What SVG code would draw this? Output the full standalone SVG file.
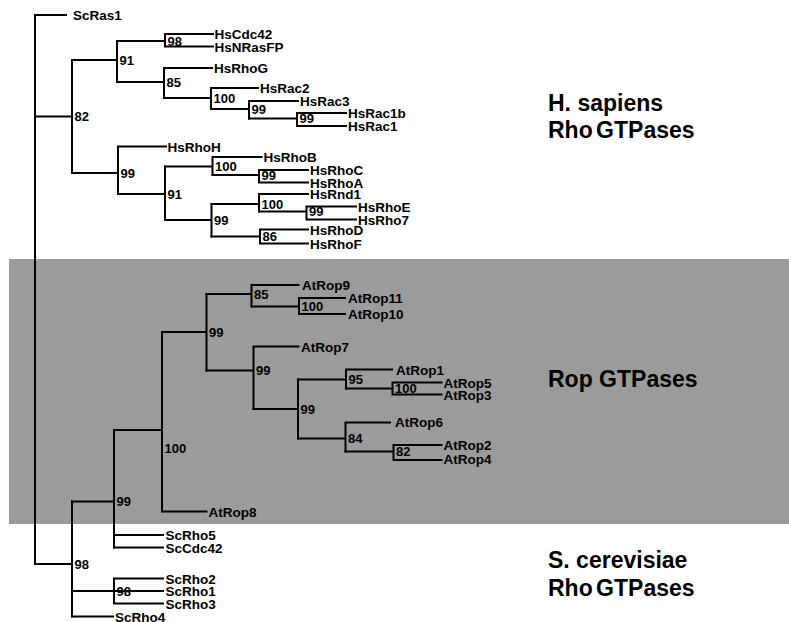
<svg xmlns="http://www.w3.org/2000/svg" width="789" height="622" viewBox="0 0 789 622">
  <style>
    .bg { fill: #ffffff; }
    .band { fill: #9b9b9b; }
    .edge { fill: none; stroke: #000000; stroke-width: 2; stroke-linecap: square; }
    .leaf { font-family: "Liberation Sans", Arial, sans-serif; font-weight: bold; font-size: 13.5px; fill: #000000; }
    .boot { font-family: "Liberation Sans", Arial, sans-serif; font-weight: bold; font-size: 13px; fill: #000000; }
    .group { font-family: "Liberation Sans", Arial, sans-serif; font-weight: bold; font-size: 23px; fill: #000000; }
  </style>

  <rect class="bg" x="0" y="0" width="789" height="622"/>
  <!-- shaded clade: plant Rop GTPases -->
  <rect id="rop-band" class="band" x="9" y="259" width="780" height="265"/>

  <!-- branches of the tree -->
  <g id="connectors">
    <path class="edge" d="M35 15 V564 M35 15 H66"/>
    <!-- H. sapiens clade -->
    <path class="edge" d="M35 116.5 H72 M72 60 V173"/>
    <path class="edge" d="M72 60 H117 M117 41 V82"/>
    <path class="edge" d="M117 41 H165 M165 34 V46.5 M165 34 H213 M165 46.5 H213"/>
    <path class="edge" d="M117 82 H164 M164 68 V98 M164 68 H212"/>
    <path class="edge" d="M164 98 H211 M211 88 V109 M211 88 H258"/>
    <path class="edge" d="M211 109 H249 M249 101 V118.5 M249 101 H298"/>
    <path class="edge" d="M249 118.5 H297 M297 113 V126 M297 113 H346 M297 126 H346"/>
    <path class="edge" d="M72 173 H118 M118 146.5 V194 M118 146.5 H166"/>
    <path class="edge" d="M118 194 H165 M165 166.5 V220"/>
    <path class="edge" d="M165 166.5 H212.5 M212.5 157 V175 M212.5 157 H261.5"/>
    <path class="edge" d="M212.5 175 H259 M259 170 V182.5 M259 170 H308 M259 182.5 H308"/>
    <path class="edge" d="M165 220 H211.5 M211.5 204 V236.5"/>
    <path class="edge" d="M211.5 204 H259 M259 194 V211.5 M259 194 H308"/>
    <path class="edge" d="M259 211.5 H306.5 M306.5 206.5 V219.5 M306.5 206.5 H356 M306.5 219.5 H356"/>
    <path class="edge" d="M211.5 236.5 H260 M260 229.5 V243.5 M260 229.5 H308 M260 243.5 H308"/>
    <!-- Rop + S. cerevisiae clade -->
    <path class="edge" d="M35 564 H72 M72 501.5 V616.5"/>
    <path class="edge" d="M72 501.5 H114 M114 430 V547.5"/>
    <path class="edge" d="M114 430 H162 M162 332 V511.5 M162 511.5 H206.5"/>
    <path class="edge" d="M162 332 H206.5 M206.5 294 V370.5"/>
    <path class="edge" d="M206.5 294 H251.5 M251.5 285 V306.5 M251.5 285 H298.5"/>
    <path class="edge" d="M251.5 306.5 H299 M299 298 V314 M299 298 H345 M299 314 H345"/>
    <path class="edge" d="M206.5 370.5 H253.5 M253.5 346.5 V409 M253.5 346.5 H298.5"/>
    <path class="edge" d="M253.5 409 H298 M298 379.5 V438.5"/>
    <path class="edge" d="M298 379.5 H346 M346 369.5 V388.5 M346 369.5 H392"/>
    <path class="edge" d="M346 388.5 H392.5 M392.5 382.5 V394.5 M392.5 382.5 H441.5 M392.5 394.5 H441.5"/>
    <path class="edge" d="M298 438.5 H345.5 M345.5 422.5 V451.5 M345.5 422.5 H390"/>
    <path class="edge" d="M345.5 451.5 H393.5 M393.5 445 V460 M393.5 445 H441.5 M393.5 460 H441.5"/>
    <path class="edge" d="M114 535 H163 M114 547.5 H163"/>
    <path class="edge" d="M72 591 H163 M114 578.5 V603.5 M114 578.5 H163 M114 603.5 H163"/>
    <path class="edge" d="M72 616.5 H113"/>
  </g>

  <!-- bootstrap support at internal nodes -->
  <g id="n82a"><text class="boot" x="74.5" y="121.2">82</text></g>
  <g id="n91a"><text class="boot" x="119.5" y="64.7">91</text></g>
  <g id="n98a"><text class="boot" x="167.5" y="45.5">98</text></g>
  <g id="n85a"><text class="boot" x="166.5" y="86.7">85</text></g>
  <g id="n100a"><text class="boot" x="213.5" y="102.7">100</text></g>
  <g id="n99a"><text class="boot" x="251.5" y="113.7">99</text></g>
  <g id="n99b"><text class="boot" x="299.5" y="123">99</text></g>
  <g id="n99c"><text class="boot" x="120.5" y="177.7">99</text></g>
  <g id="n91b"><text class="boot" x="167.5" y="198.7">91</text></g>
  <g id="n100b"><text class="boot" x="215" y="171.2">100</text></g>
  <g id="n99d"><text class="boot" x="261.5" y="179.7">99</text></g>
  <g id="n99e"><text class="boot" x="214" y="224.7">99</text></g>
  <g id="n100c"><text class="boot" x="261.5" y="208.7">100</text></g>
  <g id="n99f"><text class="boot" x="309" y="216.2">99</text></g>
  <g id="n86"><text class="boot" x="262.5" y="241.2">86</text></g>
  <g id="n98b"><text class="boot" x="74.5" y="568.7">98</text></g>
  <g id="n99g"><text class="boot" x="116.5" y="506.2">99</text></g>
  <g id="n100d"><text class="boot" x="164.5" y="452.7">100</text></g>
  <g id="n99h"><text class="boot" x="209" y="336.7">99</text></g>
  <g id="n85b"><text class="boot" x="254" y="298.7">85</text></g>
  <g id="n100e"><text class="boot" x="301.5" y="311.2">100</text></g>
  <g id="n99i"><text class="boot" x="256" y="375.2">99</text></g>
  <g id="n99j"><text class="boot" x="300.5" y="413.7">99</text></g>
  <g id="n95"><text class="boot" x="348.5" y="384.2">95</text></g>
  <g id="n100f"><text class="boot" x="395" y="393.2">100</text></g>
  <g id="n84"><text class="boot" x="348" y="443.2">84</text></g>
  <g id="n82b"><text class="boot" x="396" y="456.2">82</text></g>
  <g id="n98c"><text class="boot" x="116.5" y="595.7">98</text></g>

  <!-- leaves -->
  <g id="ScRas1"><text class="leaf" x="73" y="20">ScRas1</text></g>
  <g id="HsCdc42"><text class="leaf" x="214.5" y="39">HsCdc42</text></g>
  <g id="HsNRasFP"><text class="leaf" x="214.5" y="51.5">HsNRasFP</text></g>
  <g id="HsRhoG"><text class="leaf" x="214" y="73">HsRhoG</text></g>
  <g id="HsRac2"><text class="leaf" x="260" y="93">HsRac2</text></g>
  <g id="HsRac3"><text class="leaf" x="300" y="106">HsRac3</text></g>
  <g id="HsRac1b"><text class="leaf" x="348" y="118">HsRac1b</text></g>
  <g id="HsRac1"><text class="leaf" x="348" y="131">HsRac1</text></g>
  <g id="HsRhoH"><text class="leaf" x="167.5" y="151.5">HsRhoH</text></g>
  <g id="HsRhoB"><text class="leaf" x="263.5" y="162">HsRhoB</text></g>
  <g id="HsRhoC"><text class="leaf" x="310" y="175">HsRhoC</text></g>
  <g id="HsRhoA"><text class="leaf" x="310" y="187.5">HsRhoA</text></g>
  <g id="HsRnd1"><text class="leaf" x="310" y="199">HsRnd1</text></g>
  <g id="HsRhoE"><text class="leaf" x="358" y="211.5">HsRhoE</text></g>
  <g id="HsRho7"><text class="leaf" x="358" y="224.5">HsRho7</text></g>
  <g id="HsRhoD"><text class="leaf" x="310" y="235">HsRhoD</text></g>
  <g id="HsRhoF"><text class="leaf" x="310" y="249">HsRhoF</text></g>
  <g id="AtRop9"><text class="leaf" x="302" y="290">AtRop9</text></g>
  <g id="AtRop11"><text class="leaf" x="348" y="303">AtRop11</text></g>
  <g id="AtRop10"><text class="leaf" x="348" y="319">AtRop10</text></g>
  <g id="AtRop7"><text class="leaf" x="301" y="351.5">AtRop7</text></g>
  <g id="AtRop1"><text class="leaf" x="396" y="374.5">AtRop1</text></g>
  <g id="AtRop5"><text class="leaf" x="443.5" y="387.5">AtRop5</text></g>
  <g id="AtRop3"><text class="leaf" x="443.5" y="399.5">AtRop3</text></g>
  <g id="AtRop6"><text class="leaf" x="395" y="427">AtRop6</text></g>
  <g id="AtRop2"><text class="leaf" x="443.5" y="449.5">AtRop2</text></g>
  <g id="AtRop4"><text class="leaf" x="443.5" y="464">AtRop4</text></g>
  <g id="AtRop8"><text class="leaf" x="208.5" y="516.5">AtRop8</text></g>
  <g id="ScRho5"><text class="leaf" x="165.5" y="540">ScRho5</text></g>
  <g id="ScCdc42"><text class="leaf" x="165.5" y="552.5">ScCdc42</text></g>
  <g id="ScRho2"><text class="leaf" x="165.5" y="583.5">ScRho2</text></g>
  <g id="ScRho1"><text class="leaf" x="165.5" y="596">ScRho1</text></g>
  <g id="ScRho3"><text class="leaf" x="165.5" y="608.5">ScRho3</text></g>
  <g id="ScRho4"><text class="leaf" x="115" y="621.5">ScRho4</text></g>

  <!-- clade captions -->
  <g id="caption-hs">
    <text class="group" x="548" y="111">H. sapiens</text>
    <text class="group" x="548" y="137.5" word-spacing="-3">Rho GTPases</text>
  </g>
  <g id="caption-rop">
    <text class="group" x="548" y="387">Rop GTPases</text>
  </g>
  <g id="caption-sc">
    <text class="group" x="548" y="567.5">S. cerevisiae</text>
    <text class="group" x="548" y="596" word-spacing="-3">Rho GTPases</text>
  </g>
</svg>
